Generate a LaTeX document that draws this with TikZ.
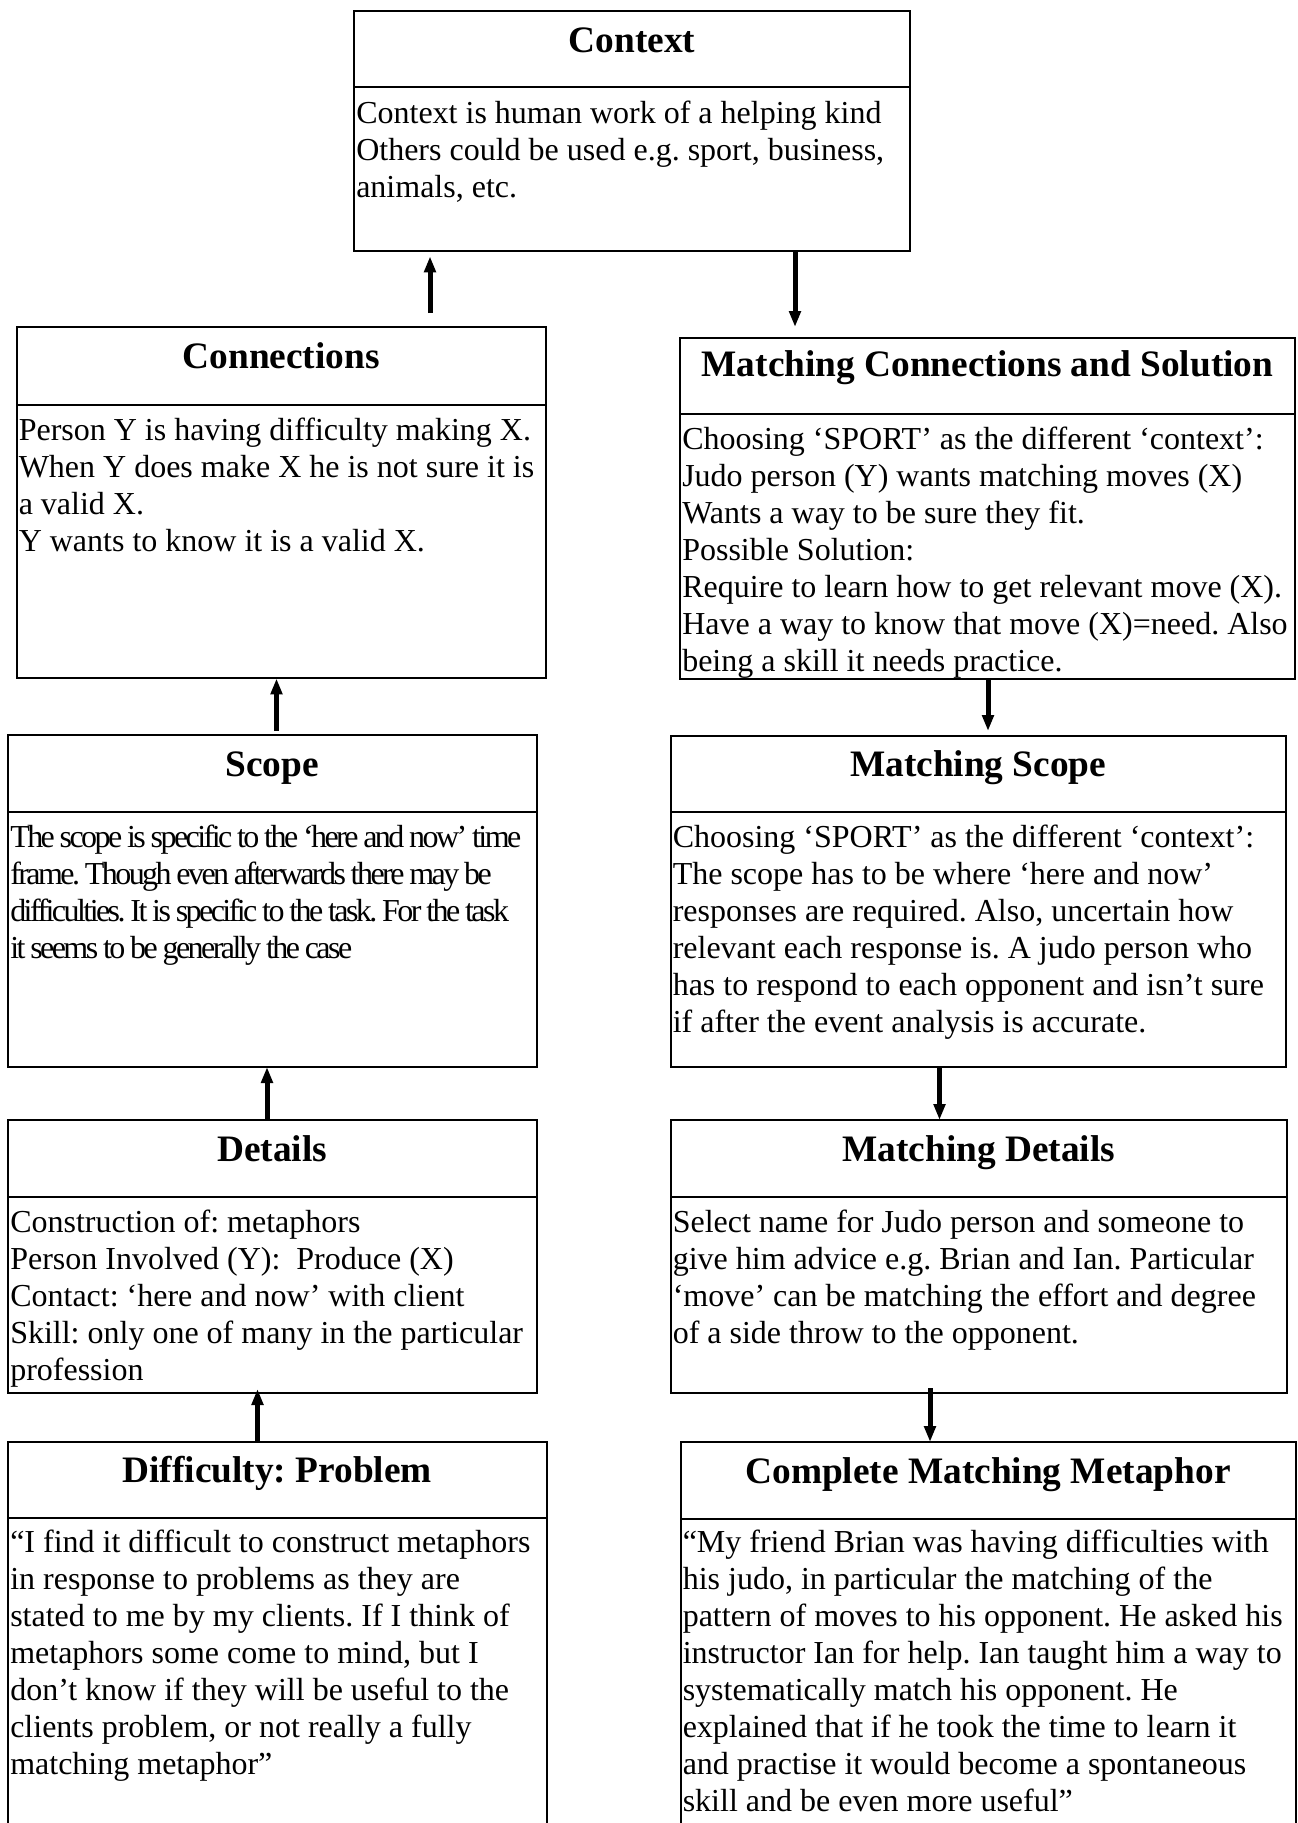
\documentclass[tikz,border=0pt]{standalone}
\usepackage{fontspec}
\setmainfont{Liberation Serif}
\usetikzlibrary{arrows.meta}
\frenchspacing
\begin{document}
\begin{tikzpicture}[
    x=0.75pt, y=-0.75pt,
    box/.style={draw, line width=1.5pt, anchor=north west, inner sep=0pt, outer sep=0pt},
    head/.style={anchor=base, inner sep=0pt, font=\bfseries\fontsize{28}{32}\selectfont},
    body/.style={anchor=north west, align=left, inner xsep=1.5pt, inner ysep=0pt, font=\fontsize{24}{27.75}\selectfont},
    tight/.style={font={\fontsize{24}{27.75}\selectfont\addfontfeatures{LetterSpace=-8}\spaceskip=0.15em plus 0.05em}},
    rule/.style={line width=1.5pt},
    arr/.style={-{Triangle[length=12pt, width=8.5pt]}, line width=3.75pt}
]
\useasboundingbox (0,0) rectangle (1297,1823);
% top
\node[box, minimum width=417pt, minimum height=180pt] (ctx) at (354,11) {};
\draw[rule] ([yshift=-57pt]ctx.north west) -- ([yshift=-57pt]ctx.north east);
\node[head] at ([yshift=-31pt]ctx.north) {Context};
\node[body] at ([yshift=-67pt]ctx.north west) {Context is human work of a helping kind\\
Others could be used e.g. sport, business,\\
animals, etc.};
% left column
\node[box, minimum width=397.1pt, minimum height=263.6pt] (conn) at (16.5,327) {};
\draw[rule] ([yshift=-58.5pt]conn.north west) -- ([yshift=-58.5pt]conn.north east);
\node[head] at ([yshift=-31pt]conn.north) {Connections};
\node[body] at ([yshift=-68pt]conn.north west) {Person Y is having difficulty making X.\\
When Y does make X he is not sure it is\\
a valid X.\\
Y wants to know it is a valid X.};

\node[box, minimum width=396.4pt, minimum height=249pt] (scope) at (8,735) {};
\draw[rule] ([yshift=-57.75pt]scope.north west) -- ([yshift=-57.75pt]scope.north east);
\node[head] at ([yshift=-31pt]scope.north) {Scope};
\node[body, tight] at ([yshift=-67pt]scope.north west) {The scope is specific to the ‘here and now’ time\\
frame. Though even afterwards there may be\\
difficulties. It is specific to the task. For the task\\
it seems to be generally the case};

\node[box, minimum width=396.4pt, minimum height=204.75pt] (det) at (8,1120) {};
\draw[rule] ([yshift=-57.5pt]det.north west) -- ([yshift=-57.5pt]det.north east);
\node[head] at ([yshift=-31pt]det.north) {Details};
\node[body] at ([yshift=-67pt]det.north west) {Construction of: metaphors\\
Person Involved (Y):\ \ Produce (X)\\
Contact:\ ‘here and now’ with client\\
Skill: only one of many in the particular\\
profession};

\node[box, minimum width=403.9pt, minimum height=315pt] (diff) at (8,1441.5) {};
\draw[rule] ([yshift=-57.5pt]diff.north west) -- ([yshift=-57.5pt]diff.north east);
\node[head] at ([yshift=-31pt]diff.north) {Difficulty: Problem};
\node[body] at ([yshift=-66pt]diff.north west) {“I find it difficult to construct metaphors\\
in response to problems as they are\\
stated to me by my clients. If I think of\\
metaphors some come to mind, but I\\
don’t know if they will be useful to the\\
clients problem, or not really a fully\\
matching metaphor”};
% right column
\node[box, minimum width=461.25pt, minimum height=255.75pt] (mconn) at (680,337.5) {};
\draw[rule] ([yshift=-57.4pt]mconn.north west) -- ([yshift=-57.4pt]mconn.north east);
\node[head] at ([yshift=-29.5pt]mconn.north) {Matching Connections and Solution};
\node[body] at ([yshift=-67pt]mconn.north west) {Choosing ‘SPORT’ as the different ‘context’:\\
Judo person (Y) wants matching moves (X)\\
Wants a way to be sure they fit.\\
Possible Solution:\\
Require to learn how to get relevant move (X).\\
Have a way to know that move (X)=need. Also\\
being a skill it needs practice.};

\node[box, minimum width=461.6pt, minimum height=248.6pt] (mscope) at (670.5,735.5) {};
\draw[rule] ([yshift=-57.4pt]mscope.north west) -- ([yshift=-57.4pt]mscope.north east);
\node[head] at ([yshift=-31pt]mscope.north) {Matching Scope};
\node[body] at ([yshift=-67pt]mscope.north west) {Choosing ‘SPORT’ as the different ‘context’:\\
The scope has to be where ‘here and now’\\
responses are required. Also, uncertain how\\
relevant each response is. A judo person who\\
has to respond to each opponent and isn’t sure\\
if after the event analysis is accurate.};

\node[box, minimum width=462.4pt, minimum height=204.75pt] (mdet) at (670.5,1120) {};
\draw[rule] ([yshift=-57.5pt]mdet.north west) -- ([yshift=-57.5pt]mdet.north east);
\node[head] at ([yshift=-31pt]mdet.north) {Matching Details};
\node[body] at ([yshift=-67pt]mdet.north west) {Select name for Judo person and someone to\\
give him advice e.g. Brian and Ian. Particular\\
‘move’ can be matching the effort and degree\\
of a side throw to the opponent.};

\node[box, minimum width=461.25pt, minimum height=315pt] (comp) at (680.5,1442) {};
\draw[rule] ([yshift=-57.5pt]comp.north west) -- ([yshift=-57.5pt]comp.north east);
\node[head] at ([yshift=-31pt]comp.north) {Complete Matching Metaphor};
\node[body] at ([yshift=-66pt]comp.north west) {“My friend Brian was having difficulties with\\
his judo, in particular the matching of the\\
pattern of moves to his opponent. He asked his\\
instructor Ian for help. Ian taught him a way to\\
systematically match his opponent. He\\
explained that if he took the time to learn it\\
and practise it would become a spontaneous\\
skill and be even more useful”};
% arrows
\coordinate (up1) at (430,313);
\coordinate (dn1) at (795,327);
\coordinate (up2) at (276.5,731);
\coordinate (dn2) at (988,731);
\coordinate (up3) at (267,1120);
\coordinate (dn3) at (939.5,1120);
\coordinate (up4) at (257.5,1441);
\coordinate (dn4) at (930,1388);
\draw[arr, shorten >=4pt] (up1) -- (up1 |- ctx.south);
\draw[arr] (dn1 |- ctx.south) -- (dn1);
\draw[arr] (up2) -- (up2 |- conn.south);
\draw[arr] (dn2 |- mconn.south) -- (dn2);
\draw[arr] (up3 |- det.north) -- (up3 |- scope.south);
\draw[arr] (dn3 |- mscope.south) -- (dn3 |- mdet.north);
\draw[arr, shorten >=-3pt] (up4 |- diff.north) -- (up4 |- det.south);
\draw[arr] (dn4) -- (dn4 |- comp.north);
\end{tikzpicture}
\end{document}
